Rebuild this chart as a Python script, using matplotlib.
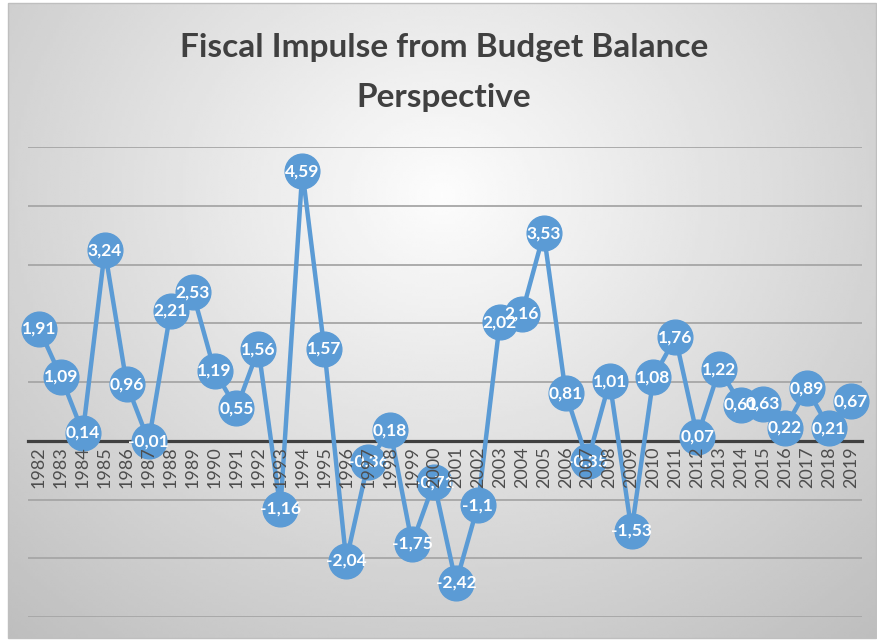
import numpy as np
import matplotlib.pyplot as plt
from matplotlib.patches import Rectangle

plt.rcParams['font.family'] = ['Lato', 'DejaVu Sans']

# data
years = list(range(1982, 2020))
impulse = [1.91, 1.09, 0.14, 3.24, 0.96, -0.01, 2.21, 2.53, 1.19, 0.55,
           1.56, -1.16, 4.59, 1.57, -2.04, -0.36, 0.18, -1.75, -0.71, -2.42,
           -1.1, 2.02, 2.16, 3.53, 0.81, -0.35, 1.01, -1.53, 1.08, 1.76,
           0.07, 1.22, 0.61, 0.63, 0.22, 0.89, 0.21, 0.67]

W, H = 878, 641
fig = plt.figure(figsize=(W / 100, H / 100), dpi=100)
fig.patch.set_facecolor('white')

# background with a soft radial gradient, like the office chart area
bg = fig.add_axes([0, 0, 1, 1])
bg.set_xlim(0, W)
bg.set_ylim(H, 0)
bg.axis('off')
gx, gy = np.meshgrid(np.linspace(0, 1, 300), np.linspace(0, 1, 220))
r = np.sqrt(((gx - 0.5) / 0.75) ** 2 + ((gy - 0.3) / 0.9) ** 2)
shade = np.clip(0.99 - 0.24 * r, 0.74, 0.99)
bg.imshow(shade, cmap='gray', vmin=0, vmax=1, extent=[8, W - 2, H - 3, 3],
          aspect='auto', interpolation='bilinear')
bg.add_patch(Rectangle((8, 3), W - 10, H - 6, fill=False, ec='#bfbfbf', lw=1))

fig.text(444 / W, 1 - 48 / H, 'Fiscal Impulse from Budget Balance', ha='center', va='center',
         fontsize=24, fontweight='bold', color='#404040')
fig.text(444 / W, 1 - 97 / H, 'Perspective', ha='center', va='center',
         fontsize=24, fontweight='bold', color='#404040')

ax = fig.add_axes([28 / W, 1 - 617 / H, 834 / W, 470 / H])
ax.set_facecolor('none')
x = np.arange(len(years))
ax.set_xlim(-0.5, len(years) - 0.5)
ax.set_ylim(-3, 5)
ax.set_yticks(range(-3, 6))
ax.yaxis.grid(True, color='#a6a6a6', lw=1.3)
ax.tick_params(axis='y', length=0, labelleft=False)
for s in ['top', 'right', 'left']:
    ax.spines[s].set_visible(False)
ax.spines['bottom'].set_position(('data', 0))
ax.spines['bottom'].set_color('#404040')
ax.spines['bottom'].set_linewidth(2.3)
ax.set_xticks(x)
ax.set_xticklabels(years, rotation=90, fontsize=13, color='#4d4d4d')
ax.tick_params(axis='x', length=0, pad=4)
ax.xaxis.set_zorder(5)

ax.plot(x, impulse, color='#5B9BD5', lw=3.2, marker='o', ms=25,
        mec='#5B9BD5', zorder=3, clip_on=False)
for i, v in zip(x, impulse):
    ax.text(i, v, f'{v:g}'.replace('.', ','), ha='center', va='center',
            color='white', fontsize=12.5, fontweight='bold', zorder=4)

fig.savefig('out.png', dpi=100)
